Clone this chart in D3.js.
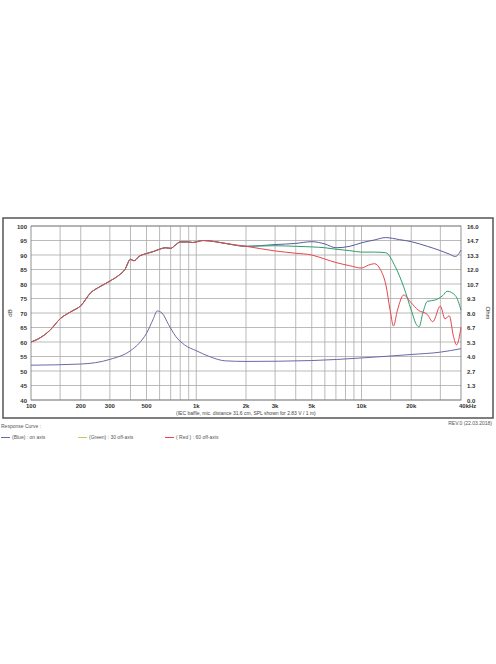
<!DOCTYPE html>
<html><head><meta charset="utf-8">
<script src="https://cdn.jsdelivr.net/npm/d3@7"></script>
<style>body{margin:0;background:#fff}text{font-family:"Liberation Sans",Arial,sans-serif}</style>
</head><body>
<svg id="c" width="496" height="664"></svg>
<script>
// common SPL (all three curves overlap below 2k)
var baseF = [100,110,130,150,175,200,230,260,300,340,370,400,420,450,500,550,600,650,700,750,800,900,950,1100,1300,1500,2000];
var baseDb = [60,61,64,68,70.5,72.5,77,79,81,83,85,88.5,88,89.5,90.5,91.2,92,92.5,92.3,93.5,94.5,94.5,94.3,95,94.6,94,93];
// on-axis (blue)
var blueF = [3000,4000,5000,6000,7000,8500,10000,12000,14000,17000,20000,25000,30000,34000,37000,40000];
var blueDb = [93.6,94,94.6,93.8,92.5,93,94.2,95.2,96,95.3,94.6,93,91.5,90.3,89.5,91.7];
// 30 off-axis (green)
var greenF = [3000,4000,5000,6000,7000,8500,10000,12000,14000,16000,18000,20000,21500,22300,23500,25000,28000,31000,33000,37000,40000];
var greenDb = [93.2,93,92.8,92.5,92,91.5,91,91,90.8,86,79,71,66,65.2,70,74,74.5,76,77.5,76,71];
// 60 off-axis (red)
var redF = [3000,4000,5000,6000,7000,8500,10000,11000,12000,13000,14000,15000,15600,16500,18000,20000,22000,25000,27000,30000,32000,34000,36000,37600,40000];
var redDb = [91.4,90.6,90,88.6,87.4,86.3,85.5,86.5,87,85,80,70,65.5,71,76.2,73.5,71,69.5,67,72.4,68,69,62,59,65];
// impedance, in dB-axis units (ohm = (dB-40)*16/60)
var impF = [100,200,300,400,450,500,550,580,620,680,750,850,1000,1200,1500,2000,5000,10000,20000,30000,40000];
var impDb = [52,52.4,54,57,59.5,63,68,70.7,70,66,62,59,57,55,53.5,53.3,53.6,54.5,55.7,56.5,57.7];

var dbTicks = d3.range(40, 101, 5);
var ohmLabels = ["0.0","1.3","2.7","4.0","5.3","6.7","8.0","9.3","10.7","12.0","13.3","14.7","16.0"];
var fTicks = [100,200,300,500,1000,2000,3000,5000,10000,20000,40000];
var fLabels = ["100","200","300","500","1k","2k","3k","5k","10k","20k","40kHz"];
var fGrid = [150,200,300,400,500,600,700,800,900,1000,2000,3000,4000,5000,6000,7000,8000,9000,10000,15000,20000,30000];

var svg = d3.select("#c");
var x = d3.scaleLog().domain([100, 40000]).range([31, 461]);
var y = d3.scaleLinear().domain([40, 100]).range([400, 226]);

svg.append("rect").attr("x", 3).attr("y", 218).attr("width", 490).attr("height", 200)
  .attr("fill", "none").attr("stroke", "#555").attr("stroke-width", 1.5);

var g = svg.append("g");
g.selectAll(".hg").data(dbTicks).join("line")
  .attr("x1", 31).attr("x2", 461).attr("y1", d => y(d)).attr("y2", d => y(d))
  .attr("stroke", "#aaa").attr("stroke-width", 0.8);
g.selectAll(".vg").data(fGrid).join("line")
  .attr("y1", 226).attr("y2", 400).attr("x1", d => x(d)).attr("x2", d => x(d))
  .attr("stroke", "#aaa").attr("stroke-width", 0.8);
g.append("rect").attr("x", 31).attr("y", 226).attr("width", 430).attr("height", 174)
  .attr("fill", "none").attr("stroke", "#777").attr("stroke-width", 0.8);

g.selectAll(".yl").data(dbTicks).join("text")
  .attr("x", 27).attr("y", d => y(d) + 2.5).attr("text-anchor", "end")
  .attr("font-size", 6).attr("font-weight", "bold").attr("fill", "#333").text(d => d);
g.selectAll(".yr").data(ohmLabels).join("text")
  .attr("x", 467).attr("y", (d, i) => y(dbTicks[i]) + 2.5)
  .attr("font-size", 6).attr("font-weight", "bold").attr("fill", "#333").text(d => d);
g.selectAll(".xl").data(fTicks).join("text")
  .attr("x", (d, i) => i == fTicks.length - 1 ? x(d) - 2 : x(d)).attr("y", 408)
  .attr("text-anchor", (d, i) => i == fTicks.length - 1 ? "start" : "middle")
  .attr("font-size", 6).attr("font-weight", "bold").attr("fill", "#333").text((d, i) => fLabels[i]);

g.append("text").attr("transform", "translate(12,313) rotate(-90)").attr("text-anchor", "middle")
  .attr("font-size", 6).attr("fill", "#333").text("dB");
g.append("text").attr("transform", "translate(486,313) rotate(90)").attr("text-anchor", "middle")
  .attr("font-size", 6).attr("fill", "#333").text("Ohm");
g.append("text").attr("x", 176).attr("y", 415).attr("font-size", 5).attr("fill", "#444")
  .text("(IEC baffle, mic. distance 31.6 cm, SPL shown for 2.83 V / 1 m)");

var line = d3.line().x(d => x(d[0])).y(d => y(d[1])).curve(d3.curveMonotoneX);
function series(f, v) { return baseF.map((d, i) => [d, baseDb[i]]).concat(f.map((d, i) => [d, v[i]])); }

g.append("path").datum(impF.map((d, i) => [d, impDb[i]])).attr("d", line)
  .attr("fill", "none").attr("stroke", "#6a6aa8").attr("stroke-width", 1);
g.append("path").datum(series(blueF, blueDb)).attr("d", line)
  .attr("fill", "none").attr("stroke", "#5b5ba0").attr("stroke-width", 1);
g.append("path").datum(series(greenF, greenDb)).attr("d", line)
  .attr("fill", "none").attr("stroke", "#2e9e6a").attr("stroke-width", 1);
g.append("path").datum(series(redF, redDb)).attr("d", line)
  .attr("fill", "none").attr("stroke", "#e8454e").attr("stroke-width", 1);

// footer legend
svg.append("text").attr("x", 1).attr("y", 428).attr("font-size", 5).attr("fill", "#555").text("Response Curve :");
svg.append("text").attr("x", 492).attr("y", 425).attr("text-anchor", "end").attr("font-size", 5).attr("fill", "#555").text("REV.0 (22.03.2018)");
var leg = [["#6a6aa8", "(Blue) : on axis", 1], ["#c8c860", "(Green) : 30 off-axis", 78], ["#e8454e", "( Red ) : 60 off-axis", 165]];
leg.forEach(l => {
  svg.append("line").attr("x1", l[2]).attr("x2", l[2] + 9).attr("y1", 437.5).attr("y2", 437.5).attr("stroke", l[0]);
  svg.append("text").attr("x", l[2] + 11).attr("y", 439).attr("font-size", 5).attr("fill", "#555").text(l[1]);
});
</script>
</body></html>
